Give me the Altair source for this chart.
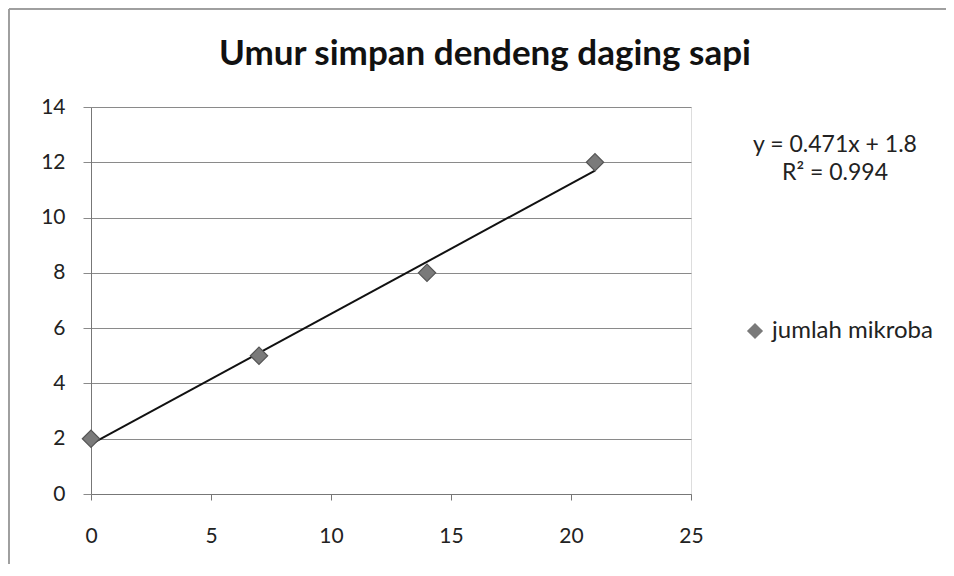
import altair as alt
import pandas as pd

# Data
days = [0, 7, 14, 21]
mikroba = [2, 5, 8, 12]
series_name = "jumlah mikroba"
equation_lines = ["y = 0.471x + 1.8", "R² = 0.994"]
title_text = "Umur simpan dendeng daging sapi"

df = pd.DataFrame({"x": days, "y": mikroba, "series": [series_name] * len(days)})
eq_df = pd.DataFrame({"text": ["\n".join(equation_lines)]})

FONT = "Lato"
W, H = 600, 387

xscale = alt.Scale(domain=[0, 25], nice=False)
yscale = alt.Scale(domain=[0, 14], nice=False)

xaxis = alt.Axis(values=[0, 5, 10, 15, 20, 25], grid=False, tickSize=6, tickColor="#777",
                 domainColor="#777", labelFontSize=21, labelFont=FONT, labelColor="#222",
                 labelPadding=25, labelFlush=False, title=None)
yaxis = alt.Axis(values=list(range(0, 15, 2)), grid=True, gridColor="#8a8a8a", gridWidth=1.2,
                 tickSize=8, tickColor="#8a8a8a", domainColor="#777", labelFontSize=21,
                 labelFont=FONT, labelColor="#222", labelPadding=18, labelFlush=False, title=None)

points = alt.Chart(df).mark_point(shape="diamond", filled=True, size=300, opacity=1,
                                   stroke="#555", strokeWidth=1.2).encode(
    x=alt.X("x:Q", scale=xscale, axis=xaxis),
    y=alt.Y("y:Q", scale=yscale, axis=yaxis),
    color=alt.Color("series:N", scale=alt.Scale(domain=[series_name], range=["#7a7a7a"]),
                    legend=alt.Legend(title=None, orient="none", legendX=652, legendY=212,
                                      symbolType="diamond", symbolSize=260, symbolStrokeWidth=0,
                                      labelFontSize=24, labelFont=FONT, labelColor="#222",
                                      labelOffset=5, labelLimit=400)),
)

trend = alt.Chart(df).transform_regression("x", "y", method="linear").mark_line(
    color="#111", strokeWidth=2
).encode(
    x=alt.X("x:Q", scale=xscale, axis=xaxis),
    y=alt.Y("y:Q", scale=yscale, axis=yaxis),
)

eq = alt.Chart(eq_df).mark_text(font=FONT, fontSize=23, color="#222", align="center",
                                baseline="middle", lineBreak="\n", lineHeight=28).encode(
    text="text:N",
    x=alt.value(744),
    y=alt.value(38),
)

frame = alt.Chart(df).mark_rect(fill=None, stroke="#999", strokeWidth=1).encode(
    x=alt.value(-82), x2=alt.value(860), y=alt.value(-98), y2=alt.value(500)
)

chart = alt.layer(frame, trend, points, eq).properties(
    width=W, height=H,
    title=alt.TitleParams(title_text, font=FONT, fontSize=35, fontWeight="bold", color="#111",
                          anchor="middle", frame="group", dx=94, offset=-63),
    autosize=alt.AutoSizeParams(type="none"),
    padding={"left": 83, "top": 99, "right": 255, "bottom": 70},
).configure_view(stroke=None).configure(background="white")

chart.save("out.html", embed_options={"renderer": "svg", "actions": False})
